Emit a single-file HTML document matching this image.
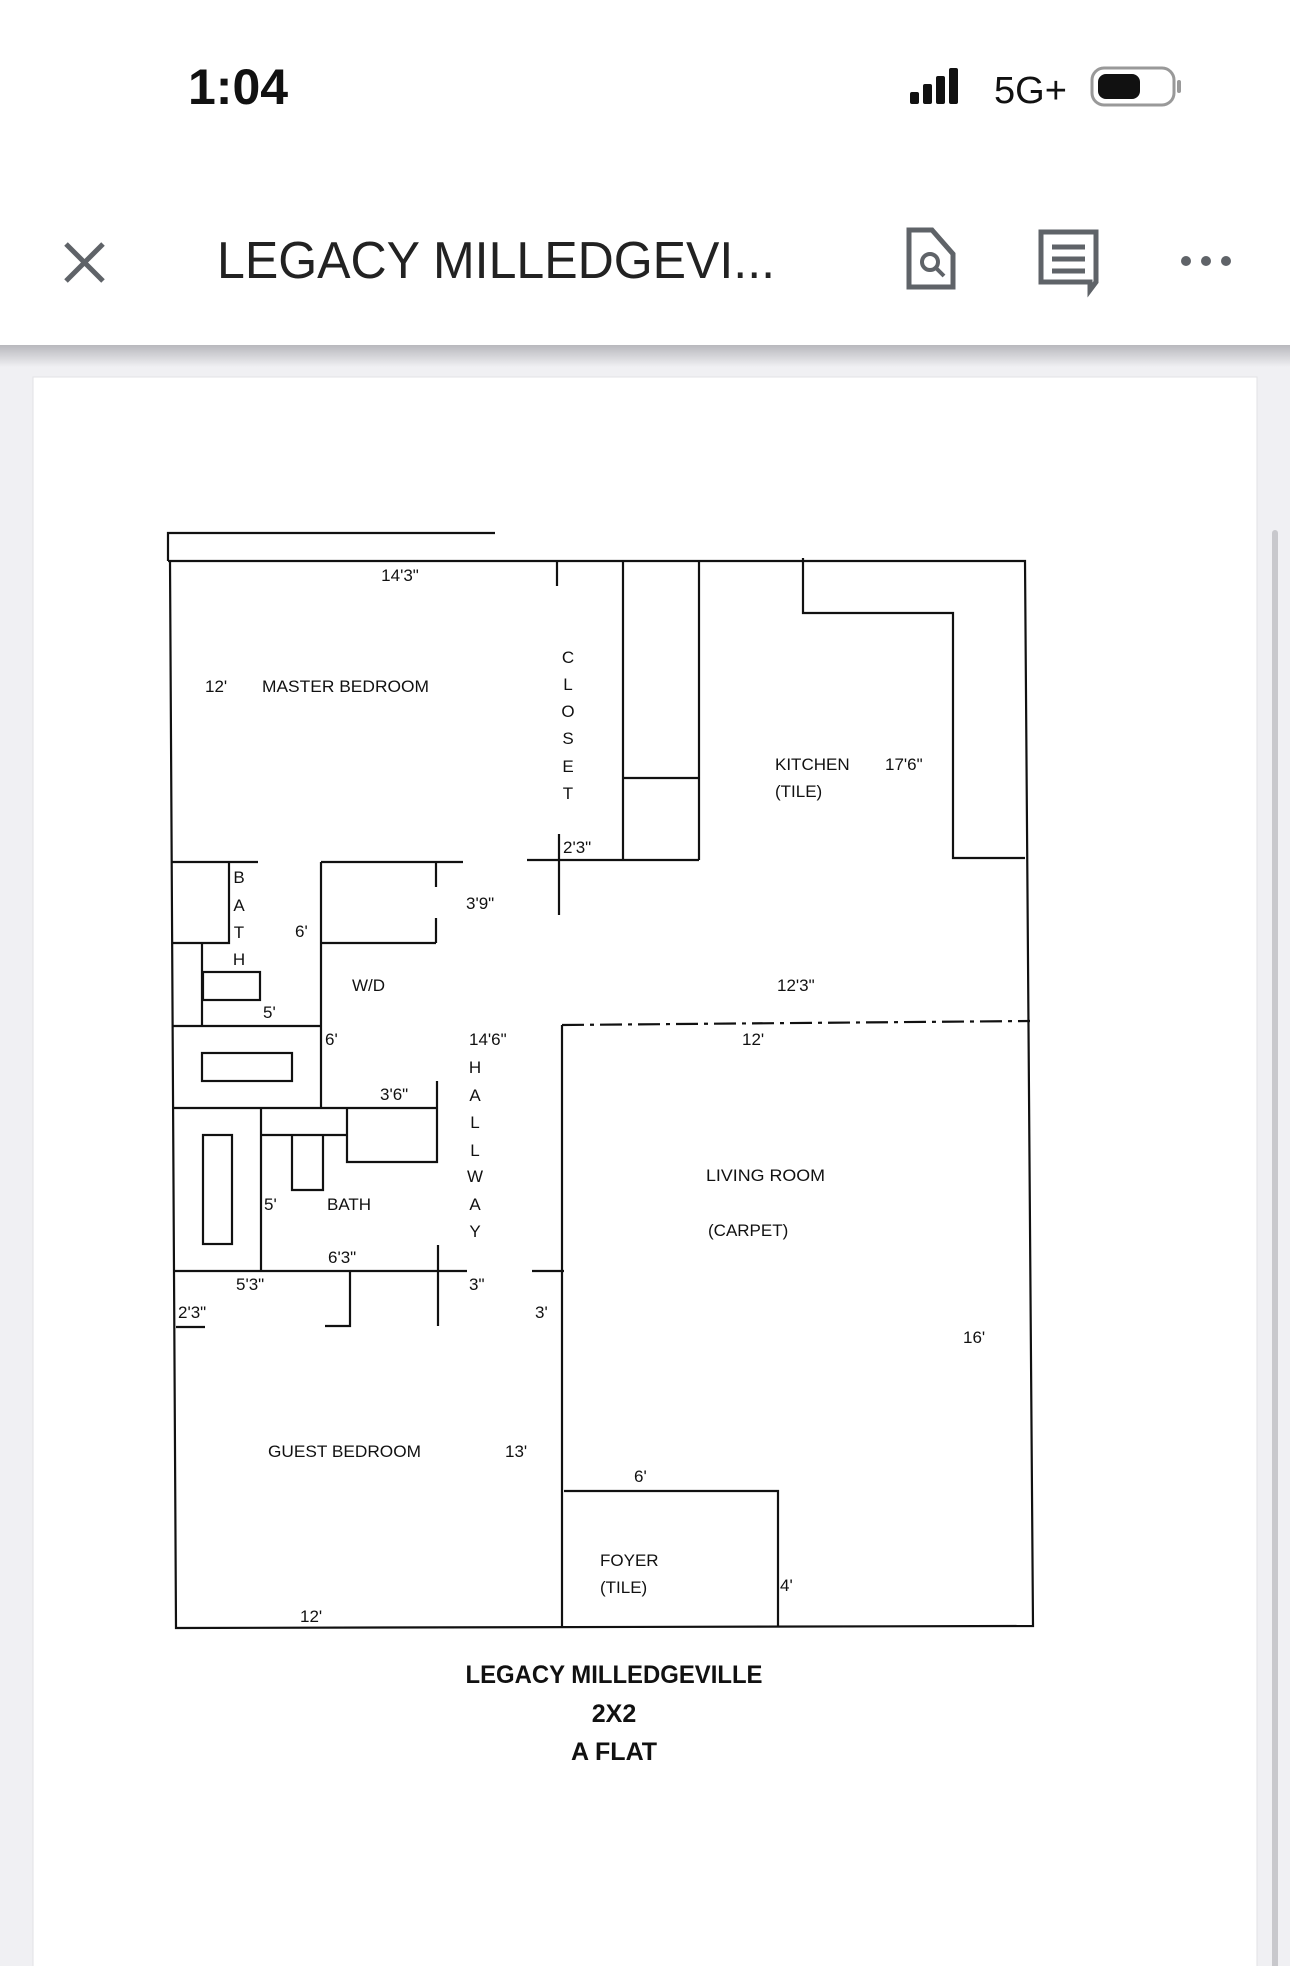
<!DOCTYPE html>
<html><head><meta charset="utf-8"><style>
html,body{margin:0;padding:0;width:1290px;height:1966px;overflow:hidden;background:#f0f0f3;font-family:"Liberation Sans",sans-serif}
svg{position:absolute;left:0;top:0}
</style></head><body>
<svg width="1290" height="1966" viewBox="0 0 1290 1966">
<defs><linearGradient id="sh" x1="0" y1="0" x2="0" y2="1"><stop offset="0" stop-color="#b8b8bd"/><stop offset="1" stop-color="#f0f0f3"/></linearGradient></defs>
<rect x="0" y="0" width="1290" height="345" fill="#fff"/>
<rect x="0" y="345" width="1290" height="22" fill="url(#sh)"/>
<rect x="33" y="377" width="1224" height="1600" fill="#fff" stroke="#e2e2e6"/>
<rect x="1272" y="530" width="6" height="1440" rx="3" fill="#c8c8cc"/>
<!-- status bar -->
<text x="188" y="104" font-size="50" font-weight="bold" fill="#111">1:04</text>
<rect x="910" y="92" width="9" height="12" rx="2" fill="#111"/>
<rect x="923" y="84" width="9" height="20" rx="2" fill="#111"/>
<rect x="936" y="76" width="9" height="28" rx="2" fill="#111"/>
<rect x="949" y="68" width="9" height="36" rx="2" fill="#111"/>
<text x="994" y="103" font-size="38" fill="#111">5G+</text>
<rect x="1092" y="68" width="82" height="37" rx="12" fill="none" stroke="#999" stroke-width="3"/>
<rect x="1098" y="74" width="42" height="25" rx="8" fill="#111"/>
<rect x="1177" y="80" width="4" height="13" rx="2" fill="#999"/>
<!-- header -->
<path d="M66 244 L103 281 M103 244 L66 281" stroke="#5f6368" stroke-width="5"/>
<text x="217" y="278" font-size="52" fill="#222" textLength="558" lengthAdjust="spacingAndGlyphs">LEGACY MILLEDGEVI...</text>
<path d="M909 230 h23 l21 24 v33 h-44 z" fill="none" stroke="#5f6368" stroke-width="5"/>
<circle cx="930" cy="262" r="8" fill="none" stroke="#5f6368" stroke-width="4"/>
<path d="M936 268 l8 8" stroke="#5f6368" stroke-width="4"/>
<path d="M1041 232 h55 v50 l-6 8 v-8 h-49 z" fill="none" stroke="#5f6368" stroke-width="5"/>
<path d="M1052 247 h33 M1052 259 h33 M1052 271 h33" stroke="#5f6368" stroke-width="5"/>
<circle cx="1186" cy="261" r="5" fill="#5f6368"/><circle cx="1206" cy="261" r="5" fill="#5f6368"/><circle cx="1226" cy="261" r="5" fill="#5f6368"/>
<!-- floor plan -->
<g stroke="#111" stroke-width="2.2" fill="none">
<path d="M168 561 V533 H495"/>
<path d="M168 561 H1025 L1033 1626 L176 1628 L170 561"/>
<path d="M557 561 V586 M559 834 V915"/>
<path d="M623 561 V860 M699 560 V860 M623 778 H699 M527 860 H699"/>
<path d="M803 558 V613 H953 V858 H1025"/>
<path d="M172 862 H258 M229 862 V943 H172"/>
<path d="M202 943 V1026"/>
<rect x="203" y="972" width="57" height="28"/>
<path d="M172 1026 H321 M321 862 V1108 M321 862 H463 M436 862 V887 M436 918 V943 M436 943 H321"/>
<rect x="202" y="1053" width="90" height="28"/>
<path d="M173 1108 H437 M437 1081 V1162 H347 V1108"/>
<path d="M262 1135 H347 M261 1108 V1272"/>
<path d="M292 1135 V1190 H323 V1135"/>
<rect x="203" y="1135" width="29" height="109"/>
<path d="M173 1271 H467 M438 1245 V1326 M350 1271 V1326 H325"/>
<path d="M532 1271 H564 M562 1025 V1627"/>
<path d="M176 1327 H205"/>
<path d="M564 1491 H778 V1627"/>
<path d="M562 1025 L1030 1021" stroke-dasharray="22 6 4 6"/>
</g>
<g font-family="'Liberation Sans Narrow','Liberation Sans',sans-serif" font-size="17" fill="#111">
<text x="400" y="581" text-anchor="middle">14'3"</text>
<text x="205" y="692">12'</text>
<text x="262" y="692" textLength="167" lengthAdjust="spacingAndGlyphs">MASTER BEDROOM</text>
<g text-anchor="middle"><text x="568" y="663">C</text><text x="568" y="690">L</text><text x="568" y="717">O</text><text x="568" y="744">S</text><text x="568" y="772">E</text><text x="568" y="799">T</text></g>
<text x="563" y="853">2'3"</text>
<g text-anchor="middle"><text x="239" y="883">B</text><text x="239" y="911">A</text><text x="239" y="938">T</text><text x="239" y="965">H</text></g>
<text x="295" y="937">6'</text>
<text x="466" y="909">3'9"</text>
<text x="352" y="991">W/D</text>
<text x="263" y="1018">5'</text>
<text x="325" y="1045">6'</text>
<text x="469" y="1045">14'6"</text>
<g text-anchor="middle"><text x="475" y="1073">H</text><text x="475" y="1101">A</text><text x="475" y="1128">L</text><text x="475" y="1156">L</text><text x="475" y="1182">W</text><text x="475" y="1210">A</text><text x="475" y="1237">Y</text></g>
<text x="380" y="1100">3'6"</text>
<text x="264" y="1210">5'</text>
<text x="327" y="1210">BATH</text>
<text x="328" y="1263">6'3"</text>
<text x="236" y="1290">5'3"</text>
<text x="469" y="1290">3"</text>
<text x="178" y="1318">2'3"</text>
<text x="535" y="1318">3'</text>
<text x="775" y="770">KITCHEN</text>
<text x="775" y="797">(TILE)</text>
<text x="885" y="770">17'6"</text>
<text x="777" y="991">12'3"</text>
<text x="742" y="1045">12'</text>
<text x="706" y="1181" textLength="119" lengthAdjust="spacingAndGlyphs">LIVING ROOM</text>
<text x="708" y="1236">(CARPET)</text>
<text x="963" y="1343">16'</text>
<text x="268" y="1457" textLength="153" lengthAdjust="spacingAndGlyphs">GUEST BEDROOM</text>
<text x="505" y="1457">13'</text>
<text x="634" y="1482">6'</text>
<text x="600" y="1566">FOYER</text>
<text x="600" y="1593">(TILE)</text>
<text x="780" y="1591">4'</text>
<text x="300" y="1622">12'</text>
</g>
<g font-family="'Liberation Sans Narrow','Liberation Sans',sans-serif" font-size="25" font-weight="bold" fill="#111" text-anchor="middle">
<text x="614" y="1683" textLength="297" lengthAdjust="spacingAndGlyphs">LEGACY MILLEDGEVILLE</text>
<text x="614" y="1722">2X2</text>
<text x="614" y="1760">A FLAT</text>
</g>
</svg>
</body></html>
